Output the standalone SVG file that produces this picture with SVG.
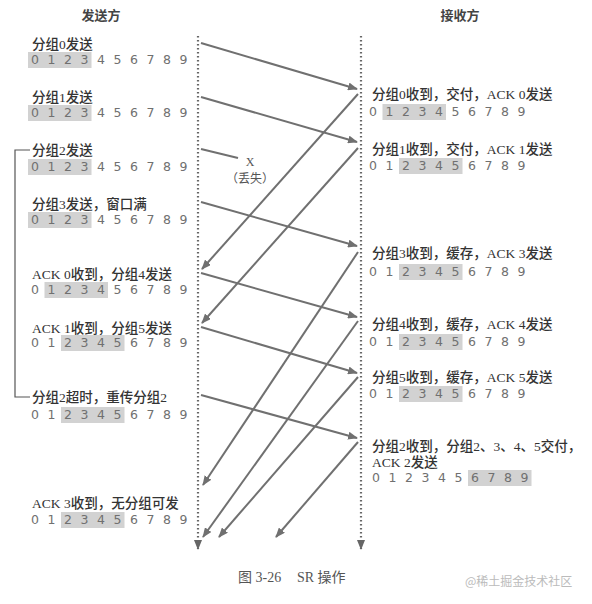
<svg xmlns="http://www.w3.org/2000/svg" xmlns:xlink="http://www.w3.org/1999/xlink" width="592" height="604" viewBox="0 0 592 604">
<style>
.lbl{font-family:"Liberation Serif","Noto Sans CJK SC",serif;font-size:13.5px;fill:#333;font-weight:500}
.hdr{font-family:"Noto Sans CJK SC",sans-serif;font-size:13px;fill:#444;font-weight:600;text-anchor:middle}
.num{font-family:"DejaVu Sans","Noto Sans",sans-serif;font-size:12.5px;fill:#707070;text-anchor:middle}
.win{fill:#d2d2d2}
.arr{stroke:#707070;stroke-width:2;fill:none;marker-end:url(#ah)}
.lost{stroke:#707070;stroke-width:2;fill:none}
.time{stroke:#666;stroke-width:2.2;stroke-dasharray:1.6 2.4;fill:none;marker-end:url(#ah2)}
.cap{font-family:"Liberation Serif","Noto Sans CJK SC",serif;font-size:14px;fill:#555}
</style>
<defs>
<marker id="ah" markerWidth="10" markerHeight="8" refX="9" refY="4" orient="auto" markerUnits="userSpaceOnUse">
<path d="M0,0 L10,4 L0,8 Z" fill="#707070"/>
</marker>
<marker id="ah2" markerWidth="10" markerHeight="8" refX="9" refY="4" orient="auto" markerUnits="userSpaceOnUse">
<path d="M0,0 L10,4 L0,8 Z" fill="#666"/>
</marker>
<text id="nums" class="num" x="0 16.5 33 49.5 66 82.5 99 115.5 132 148.5" y="0">0123456789</text>
</defs>

<g id="headers">
<text class="hdr" x="101" y="20">发送方</text>
<text class="hdr" x="460" y="20">接收方</text>
</g>

<g id="timelines">
<line class="time" x1="198" y1="36" x2="198" y2="549"/>
<line class="time" x1="361" y1="36" x2="361" y2="549"/>
</g>

<g id="bracket">
<path d="M30,150 H15 V397 H30" stroke="#555" stroke-width="1.2" fill="none"/>
</g>

<g id="sender">
<g id="s0"><text class="lbl" x="32" y="49">分组0发送</text>
<g transform="translate(35,64)"><rect class="win" x="-7" y="-12" width="63.5" height="16"/><use xlink:href="#nums"/></g></g>
<g id="s1"><text class="lbl" x="32" y="102">分组1发送</text>
<g transform="translate(35,117)"><rect class="win" x="-7" y="-12" width="63.5" height="16"/><use xlink:href="#nums"/></g></g>
<g id="s2"><text class="lbl" x="32" y="155">分组2发送</text>
<g transform="translate(35,171)"><rect class="win" x="-7" y="-12" width="63.5" height="16"/><use xlink:href="#nums"/></g></g>
<g id="s3"><text class="lbl" x="32" y="209">分组3发送，窗口满</text>
<g transform="translate(35,224)"><rect class="win" x="-7" y="-12" width="63.5" height="16"/><use xlink:href="#nums"/></g></g>
<g id="s4"><text class="lbl" x="32" y="279">ACK 0收到，分组4发送</text>
<g transform="translate(35,294)"><rect class="win" x="9.5" y="-12" width="63.5" height="16"/><use xlink:href="#nums"/></g></g>
<g id="s5"><text class="lbl" x="32" y="333">ACK 1收到，分组5发送</text>
<g transform="translate(35,347)"><rect class="win" x="26" y="-12" width="63.5" height="16"/><use xlink:href="#nums"/></g></g>
<g id="s6"><text class="lbl" x="32" y="402">分组2超时，重传分组2</text>
<g transform="translate(35,419)"><rect class="win" x="26" y="-12" width="63.5" height="16"/><use xlink:href="#nums"/></g></g>
<g id="s7"><text class="lbl" x="32" y="508">ACK 3收到，无分组可发</text>
<g transform="translate(35,524)"><rect class="win" x="26" y="-12" width="63.5" height="16"/><use xlink:href="#nums"/></g></g>
</g>

<g id="receiver">
<g id="r0"><text class="lbl" x="372" y="99">分组0收到，交付，ACK 0发送</text>
<g transform="translate(373,116)"><rect class="win" x="9.5" y="-12" width="63.5" height="16"/><use xlink:href="#nums"/></g></g>
<g id="r1"><text class="lbl" x="372" y="154">分组1收到，交付，ACK 1发送</text>
<g transform="translate(373,170)"><rect class="win" x="26" y="-12" width="63.5" height="16"/><use xlink:href="#nums"/></g></g>
<g id="r3"><text class="lbl" x="372" y="258">分组3收到，缓存，ACK 3发送</text>
<g transform="translate(373,276)"><rect class="win" x="26" y="-12" width="63.5" height="16"/><use xlink:href="#nums"/></g></g>
<g id="r4"><text class="lbl" x="372" y="329">分组4收到，缓存，ACK 4发送</text>
<g transform="translate(373,346)"><rect class="win" x="26" y="-12" width="63.5" height="16"/><use xlink:href="#nums"/></g></g>
<g id="r5"><text class="lbl" x="372" y="382">分组5收到，缓存，ACK 5发送</text>
<g transform="translate(373,398)"><rect class="win" x="26" y="-12" width="63.5" height="16"/><use xlink:href="#nums"/></g></g>
<g id="r2"><text class="lbl" x="372" y="451">分组2收到，分组2、3、4、5交付，</text>
<text class="lbl" x="372" y="467">ACK 2发送</text>
<g transform="translate(376,482)"><rect class="win" x="92" y="-12" width="63.5" height="16"/><use xlink:href="#nums"/></g></g>
</g>

<g id="connectors">
<line class="arr" x1="201" y1="43" x2="357" y2="89"/>
<line class="arr" x1="201" y1="97" x2="357" y2="142"/>
<line class="lost" x1="201" y1="149" x2="238" y2="158"/>
<line class="arr" x1="201" y1="202" x2="357" y2="246"/>
<line class="arr" x1="201" y1="273" x2="357" y2="317"/>
<line class="arr" x1="201" y1="327" x2="357" y2="373"/>
<line class="arr" x1="201" y1="395" x2="357" y2="438"/>
<line class="arr" x1="358" y1="94" x2="202" y2="269"/>
<line class="arr" x1="358" y1="148" x2="202" y2="323"/>
<line class="arr" x1="358" y1="252" x2="203" y2="485"/>
<line class="arr" x1="358" y1="321" x2="203" y2="537"/>
<line class="arr" x1="358" y1="377" x2="219" y2="537"/>
<line class="arr" x1="358" y1="442" x2="276" y2="537"/>
</g>

<g id="loss-label">
<text class="cap" x="250" y="166" text-anchor="middle" style="font-size:12px">X</text>
<text class="cap" x="250" y="183" text-anchor="middle" style="font-size:12px">（丢失）</text>
</g>

<g id="caption">
<text class="cap" x="238" y="582">图 3-26</text>
<text class="cap" x="297" y="582">SR 操作</text>
</g>
<text x="465" y="586" style="font-family:'Noto Sans CJK SC',sans-serif;font-size:12px;fill:#bbb">@稀土掘金技术社区</text>
</svg>
